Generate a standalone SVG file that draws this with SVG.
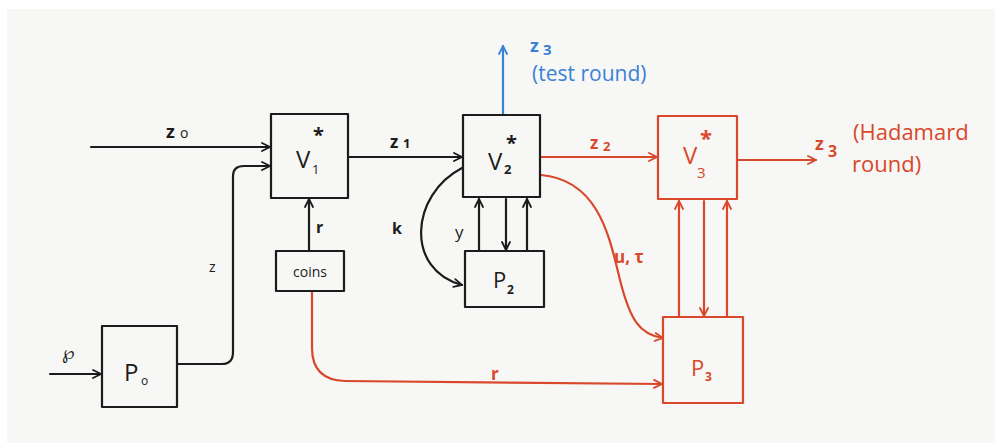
<svg xmlns="http://www.w3.org/2000/svg" width="995" height="443" viewBox="0 0 995 443">
<defs>
<style>
.k{stroke:#1c1c1c;stroke-width:2.2;fill:none;stroke-linecap:round;stroke-linejoin:round}
.r{stroke:#d9482b;stroke-width:2.2;fill:none;stroke-linecap:round;stroke-linejoin:round}
.b{stroke:#3b82d6;stroke-width:2.2;fill:none;stroke-linecap:round}
.tk{fill:#1c1c1c;font-family:"Open Sans","DejaVu Sans",sans-serif}
.tr{fill:#d9482b;font-family:"Open Sans","DejaVu Sans",sans-serif}
.tb{fill:#3b82d6;font-family:"Open Sans","DejaVu Sans",sans-serif}
</style>
<marker id="ak" viewBox="0 0 10 10" refX="9" refY="5" markerWidth="10" markerHeight="10" markerUnits="userSpaceOnUse" orient="auto"><path d="M1,1 L9,5 L1,9" fill="none" stroke="#1c1c1c" stroke-width="1.8" stroke-linecap="round"/></marker>
<marker id="ar" viewBox="0 0 10 10" refX="9" refY="5" markerWidth="10" markerHeight="10" markerUnits="userSpaceOnUse" orient="auto"><path d="M1,1 L9,5 L1,9" fill="none" stroke="#d9482b" stroke-width="1.8" stroke-linecap="round"/></marker>
<marker id="ab" viewBox="0 0 10 10" refX="9" refY="5" markerWidth="10" markerHeight="10" markerUnits="userSpaceOnUse" orient="auto"><path d="M1,1 L9,5 L1,9" fill="none" stroke="#3b82d6" stroke-width="1.8" stroke-linecap="round"/></marker>
</defs>
<rect x="0" y="0" width="995" height="443" fill="#ffffff"/>
<rect x="7" y="9" width="988" height="434" fill="#f7f7f5"/>

<g id="connectors">
<path class="k" d="M91,147 L270,147" marker-end="url(#ak)"/>
<path class="k" d="M178,364 L222,364 Q233,364 233,352 L233,176 Q233,166 244,166 L270,166" marker-end="url(#ak)"/>
<path class="k" d="M50,374 L101,374" marker-end="url(#ak)"/>
<path class="k" d="M309,251 L309,199" marker-end="url(#ak)"/>
<path class="k" d="M349,157 L462,157" marker-end="url(#ak)"/>
<path class="b" d="M503,114 L503,46" marker-end="url(#ab)"/>
<path class="r" d="M541,157 L657,157" marker-end="url(#ar)"/>
<path class="r" d="M738,160 L816,160" marker-end="url(#ar)"/>
<path class="k" d="M479,251 L479,199" marker-end="url(#ak)"/>
<path class="k" d="M506,199 L506,250" marker-end="url(#ak)"/>
<path class="k" d="M527,251 L527,199" marker-end="url(#ak)"/>
<path class="k" d="M462,168 C410,195 405,270 462,285" marker-end="url(#ak)"/>
<path class="r" d="M541,175 C600,180 610,240 620,280 C630,320 640,335 663,338" marker-end="url(#ar)"/>
<path class="r" d="M312,292 L312,348 Q312,380 345,381 L662,384" marker-end="url(#ar)"/>
<path class="r" d="M679,317 L679,201" marker-end="url(#ar)"/>
<path class="r" d="M704,201 L704,316" marker-end="url(#ar)"/>
<path class="r" d="M727,317 L727,201" marker-end="url(#ar)"/>
</g>

<g id="V1"><rect class="k" x="271" y="114" width="77" height="84"/>
<text class="tk" x="296" y="168" font-size="24">V</text><text class="tk" x="312" y="174" font-size="13" fill="#1c1c1c">1</text><text class="tk" x="313" y="142" font-size="20" font-weight="bold">*</text></g>
<g id="V2"><rect class="k" x="463" y="115" width="77" height="82"/>
<text class="tk" x="488" y="170" font-size="24">V</text><text class="tk" x="504" y="174" font-size="13" font-weight="bold">2</text><text class="tk" x="506" y="150" font-size="20" font-weight="bold">*</text></g>
<g id="V3"><rect class="r" x="658" y="116" width="79" height="83"/>
<text class="tr" x="683" y="164" font-size="24">V</text><text class="tr" x="697" y="178" font-size="15">3</text><text class="tr" x="700" y="146" font-size="22" font-weight="bold">*</text></g>
<g id="P0"><rect class="k" x="102" y="326" width="75" height="81"/>
<text class="tk" x="124" y="381" font-size="24">P</text><text class="tk" x="141" y="385" font-size="12">o</text></g>
<g id="coins"><rect class="k" x="276" y="251" width="68" height="40"/>
<text class="tk" x="310" y="277" font-size="14" text-anchor="middle">coins</text></g>
<g id="P2"><rect class="k" x="465" y="251" width="79" height="56"/>
<text class="tk" x="493" y="288" font-size="22">P</text><text class="tk" x="507" y="294" font-size="12" font-weight="bold">2</text></g>
<g id="P3"><rect class="r" x="663" y="317" width="80" height="86"/>
<text class="tr" x="691" y="376" font-size="22">P</text><text class="tr" x="705" y="381" font-size="12" font-weight="bold">3</text></g>

<g id="labels">
<text class="tk" x="166" y="138" font-size="18" font-weight="bold">z</text><text class="tk" x="180" y="138" font-size="14">o</text>
<text class="tk" x="62" y="359" font-size="18">℘</text>
<text class="tk" x="209" y="272" font-size="14">z</text>
<text class="tk" x="316" y="233" font-size="16" font-weight="bold">r</text>
<text class="tk" x="390" y="148" font-size="17" font-weight="bold">z</text><text class="tk" x="403" y="148" font-size="13" font-weight="bold">1</text>
<text class="tk" x="392" y="234" font-size="16" font-weight="bold">k</text>
<text class="tk" x="455" y="238" font-size="17">y</text>
<text class="tb" x="530" y="52" font-size="18" font-weight="bold">z</text><text class="tb" x="543" y="55" font-size="15" font-weight="bold">3</text>
<text class="tb" x="532" y="81" font-size="21">(test round)</text>
<text class="tr" x="590" y="149" font-size="17" font-weight="bold">z</text><text class="tr" x="603" y="151" font-size="13" font-weight="bold">2</text>
<text class="tr" x="815" y="150" font-size="18" font-weight="bold">z</text><text class="tr" x="828" y="157" font-size="16" font-weight="bold">3</text>
<text class="tr" x="853" y="140" font-size="22">(Hadamard</text>
<text class="tr" x="852" y="172" font-size="22">round)</text>
<text class="tr" x="614" y="263" font-size="17" font-weight="bold">u, τ</text>
<text class="tr" x="491" y="380" font-size="17" font-weight="bold">r</text>
</g>
</svg>
